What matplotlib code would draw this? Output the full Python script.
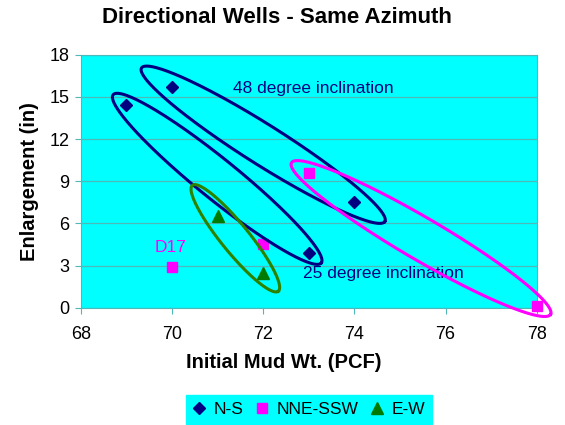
import numpy as np
import matplotlib.pyplot as plt
from matplotlib.lines import Line2D

plt.rcParams['font.family'] = ['Liberation Sans', 'DejaVu Sans']

# N-S wells
ns_x = [69, 70, 73, 74]
ns_y = [14.4, 15.7, 3.9, 7.5]
# NNE-SSW wells
nne_x = [70, 72, 73, 78]
nne_y = [2.9, 4.5, 9.6, 0.1]
# E-W wells
ew_x = [71, 72]
ew_y = [6.5, 2.5]

x_ticks = [68, 70, 72, 74, 76, 78]
y_ticks = [0, 3, 6, 9, 12, 15, 18]

navy = '#000080'
magenta = '#ff00ff'
green = '#007a00'
teal = '#4fb8b8'

fig = plt.figure(figsize=(5.65, 4.25), dpi=100)
ax = fig.add_axes([0.143, 0.276, 0.807, 0.595])
ax.set_facecolor('#00ffff')
ax.set_xlim(68, 78)
ax.set_ylim(0, 18)
ax.set_xticks(x_ticks)
ax.set_yticks(y_ticks)
ax.yaxis.grid(True, color=teal, lw=0.9)
ax.set_axisbelow(True)
for s in ax.spines.values():
    s.set_color(teal)
ax.tick_params(colors=teal, labelcolor='black', labelsize=13, length=4, direction='out')
ax.tick_params(axis='x', pad=9)
ax.tick_params(axis='y', pad=4)

ax.plot(ns_x, ns_y, 'D', color=navy, ms=6, ls='none', zorder=3)
ax.plot(nne_x, nne_y, 's', color=magenta, ms=7, ls='none', zorder=3, clip_on=False)
ax.plot(ew_x, ew_y, '^', color=green, ms=8.5, ls='none', zorder=3)


def ring(p1, p2, pad1, pad2, half_w, color):
    # ellipse around two points, sized in screen pixels
    a = ax.transData.transform(p1)
    b = ax.transData.transform(p2)
    u = (b - a) / np.hypot(*(b - a))
    t1 = a - pad1 * u
    t2 = b + pad2 * u
    c = (t1 + t2) / 2
    half_l = np.hypot(*(t2 - t1)) / 2
    n = np.array([-u[1], u[0]])
    th = np.linspace(0, 2 * np.pi, 300)
    pts = c + np.outer(np.cos(th) * half_l, u) + np.outer(np.sin(th) * half_w, n)
    d = ax.transData.inverted().transform(pts)
    ax.plot(d[:, 0], d[:, 1], color=color, lw=2.2, clip_on=False, zorder=4)


ring((ns_x[1], ns_y[1]), (ns_x[3], ns_y[3]), 36, 36, 20, navy)
ring((ns_x[0], ns_y[0]), (ns_x[2], ns_y[2]), 17, 16, 20, navy)
ring((nne_x[2], nne_y[2]), (nne_x[3], nne_y[3]), 20, 16, 21, magenta)
ring((ew_x[0], ew_y[0]), (ew_x[1], ew_y[1]), 40, 24, 14, '#2f8200')

ax.text(71.34, 15.58, '48 degree inclination', color=navy, fontsize=12.5, va='center')
ax.text(72.88, 2.45, '25 degree inclination', color=navy, fontsize=12.5, va='center')
ax.text(69.96, 4.3, 'D17', color=magenta, fontsize=12.5, ha='center', va='center')

ax.set_ylabel('Enlargement (in)', fontsize=14.5, fontweight='bold', labelpad=8)
fig.text(0.503, 0.146, 'Initial Mud Wt. (PCF)', fontsize=14.5, fontweight='bold',
         ha='center', va='center')
fig.text(0.49, 0.958, 'Directional Wells - Same Azimuth', fontsize=16,
         fontweight='bold', ha='center', va='center')

handles = [
    Line2D([], [], marker='D', color=navy, ls='none', ms=6),
    Line2D([], [], marker='s', color=magenta, ls='none', ms=7),
    Line2D([], [], marker='^', color=green, ls='none', ms=8.5),
]
leg = fig.legend(handles, ['N-S', 'NNE-SSW', 'E-W'], loc='center',
                 bbox_to_anchor=(0.547, 0.037), ncol=3, fontsize=12.5,
                 handlelength=0.7, handletextpad=0.5, columnspacing=0.7,
                 fancybox=False, facecolor='#00ffff', edgecolor='#00ffff',
                 framealpha=1, borderpad=0.4, borderaxespad=0.2)

fig.savefig('out.png', dpi=100)
